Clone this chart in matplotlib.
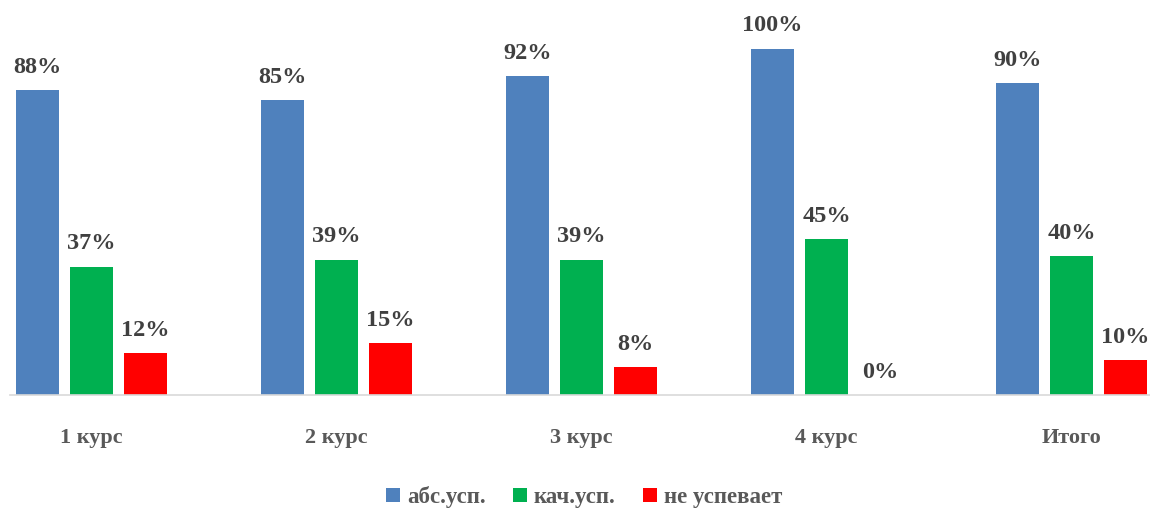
import matplotlib
matplotlib.use("Agg")
import matplotlib.pyplot as plt
import numpy as np
from matplotlib.patches import Patch

categories = ["1 курс", "2 курс", "3 курс", "4 курс", "Итого"]
series_names = ["абс.усп.", "кач.усп.", "не успевает"]
abs_usp = [88, 85, 92, 100, 90]
kach_usp = [37, 39, 39, 45, 40]
ne_usp = [12, 15, 8, 0, 10]
colors = ["#4F81BD", "#00B050", "#FF0000"]

plt.rcParams['font.family'] = ['Liberation Serif', 'DejaVu Serif']

fig = plt.figure(figsize=(11.5, 5.08), dpi=100)
ax = fig.add_axes([10/1150, (508-395)/508, 1140/1150, 395/508])

x = np.arange(len(categories))
w = 0.1755
off = 0.2204
txtc = "#404040"
tickc = "#595959"
for vals, dx, c in zip([abs_usp, kach_usp, ne_usp], [-off, 0, off], colors):
    bars = ax.bar(x + dx, vals, width=w, color=c, zorder=2)
    for b, v in zip(bars, vals):
        ax.annotate(f"{v}%", (b.get_x() + b.get_width()/2, v),
                    xytext=(0, 9), textcoords="offset points",
                    ha="center", va="bottom", fontsize=17.5, fontweight="bold", color=txtc)

ax.set_xlim((10-91.5)/245, (1150-91.5)/245)
ax.set_ylim(0, 114)
for s in ["top", "right", "left"]:
    ax.spines[s].set_visible(False)
ax.spines["bottom"].set_color("#D9D9D9")
ax.spines["bottom"].set_linewidth(1.2)
ax.set_yticks([])
ax.set_xticks(x)
ax.set_xticklabels(categories, fontsize=16, fontweight="bold", color=tickc)
ax.tick_params(axis="x", length=0, pad=24)

handles = [Patch(facecolor=c, label=n) for c, n in zip(colors, series_names)]
fig.legend(handles=handles, loc="center", bbox_to_anchor=(0.508, 11/508), ncol=3,
           frameon=False, prop={"size": 16.5, "weight": "bold"}, labelcolor=tickc,
           handlelength=0.6, handleheight=0.6, handletextpad=0.3, columnspacing=1.2)

fig.savefig("out.png", dpi=100)
